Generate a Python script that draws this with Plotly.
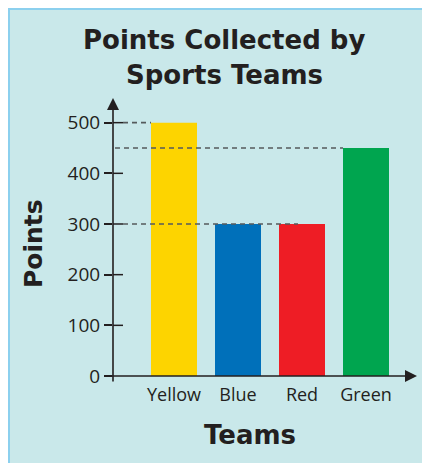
import plotly.graph_objects as go

# ---- data ----
teams = ["Yellow", "Blue", "Red", "Green"]
points = [500, 300, 300, 450]
bar_colors = ["#FDD400", "#0070BA", "#EE1D25", "#00A54F"]
y_ticks = [0, 100, 200, 300, 400, 500]
title_lines = ["Points Collected by", "Sports Teams"]
x_title = "Teams"
y_title = "Points"

INK = "#231f20"
BOLD = "DejaVu Sans"
BORDER = "#8CD0EE"
PANEL = "#C9E8EA"
W, H = 422, 463
# plot area in page pixels: x 113..417, y 98..376
L, R, T, B = 113, W - 417, 98, H - 376
pw, ph = W - L - R, H - T - B
px_per_unit = 0.5067
ymax = ph / px_per_unit
step = 64.0          # px per category
c0 = 174.0           # px centre of first bar
xmin = (113 - c0) / step
xmax = (417 - c0) / step
bw = 46 / step


def px2x(px):
    return (px - c0) / step


def px2paper_x(px):
    return (px - L) / pw


def py2paper_y(py):
    return (H - B - py) / ph


fig = go.Figure()
fig.add_trace(go.Bar(
    x=list(range(len(teams))), y=points, width=bw,
    marker=dict(color=bar_colors, line=dict(width=0)),
    hoverinfo="skip",
))

shapes = []
# panel
shapes.append(dict(type="rect", xref="paper", yref="paper", layer="below",
                   x0=px2paper_x(8), x1=px2paper_x(W + 20), y0=py2paper_y(H + 20), y1=py2paper_y(8),
                   fillcolor=PANEL, line=dict(width=0)))
# panel border (top / left only)
shapes.append(dict(type="line", xref="paper", yref="paper", layer="below",
                   x0=px2paper_x(8), x1=px2paper_x(W + 20), y0=py2paper_y(9), y1=py2paper_y(9),
                   line=dict(color=BORDER, width=2)))
shapes.append(dict(type="line", xref="paper", yref="paper", layer="below",
                   x0=px2paper_x(9), x1=px2paper_x(9), y0=py2paper_y(8), y1=py2paper_y(H + 20),
                   line=dict(color=BORDER, width=2)))
# dashed guide lines
guides = [(points[0], px2x(123), 0 - bw / 2),
          (points[3], px2x(115), 3 - bw / 2),
          (points[1], px2x(123), px2x(298))]
for yv, x0, x1 in guides:
    shapes.append(dict(type="line", xref="x", yref="y", layer="above",
                       x0=x0, x1=x1, y0=yv, y1=yv,
                       line=dict(color="#555a5c", width=1.6, dash="5px,4px")))
# inner half of y ticks
for tv in y_ticks[1:]:
    shapes.append(dict(type="line", xref="paper", yref="y", layer="above",
                       x0=0, x1=px2paper_x(123), y0=tv, y1=tv,
                       line=dict(color=INK, width=1.5)))

annotations = [
    # y axis arrow
    dict(xref="paper", yref="paper", x=0, y=1, ax=0, ay=285, text="",
         showarrow=True, arrowhead=2, arrowsize=1.5, arrowwidth=1.6, arrowcolor=INK, standoff=0),
    # x axis arrow
    dict(xref="paper", yref="paper", x=1, y=0, ax=-312, ay=0, text="",
         showarrow=True, arrowhead=2, arrowsize=1.5, arrowwidth=1.6, arrowcolor=INK, standoff=0),
    dict(xref="paper", yref="paper", x=px2paper_x(250), y=py2paper_y(435), text="<b>" + x_title + "</b>",
         showarrow=False, font=dict(family=BOLD, size=26, color=INK), xanchor="center", yanchor="middle"),
    dict(xref="paper", yref="paper", x=px2paper_x(33), y=py2paper_y(244), text="<b>" + y_title + "</b>",
         textangle=-90, showarrow=False, font=dict(family=BOLD, size=25, color=INK),
         xanchor="center", yanchor="middle"),
]
for line, yc in zip(title_lines, [40, 75]):
    annotations.append(dict(xref="paper", yref="paper", x=px2paper_x(224), y=py2paper_y(yc),
                            text="<b>" + line + "</b>", showarrow=False,
                            font=dict(family=BOLD, size=26, color=INK),
                            xanchor="center", yanchor="middle"))

fig.update_layout(
    width=W, height=H,
    margin=dict(l=L, r=R, t=T, b=B, pad=0),
    paper_bgcolor="white", plot_bgcolor="rgba(0,0,0,0)",
    showlegend=False,
    xaxis=dict(range=[xmin, xmax], tickvals=list(range(len(teams))), ticktext=teams,
               showgrid=False, zeroline=False, showline=False, ticks="",
               ticklabelstandoff=6,
               tickfont=dict(family="Open Sans", size=18, color=INK)),
    yaxis=dict(range=[0, ymax], tickvals=y_ticks, showgrid=False, zeroline=False,
               showline=False, ticks="outside", ticklen=8, tickwidth=1.5, tickcolor=INK,
               tickfont=dict(family="Open Sans", size=19, color=INK)),
    shapes=shapes,
    annotations=annotations,
)

fig.write_html("out.html",
               config={"displayModeBar": False},
               post_script="document.body.style.margin='0';"
                           "document.documentElement.style.overflow='hidden';")
